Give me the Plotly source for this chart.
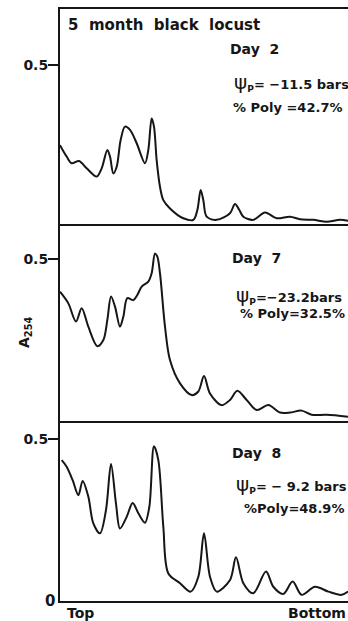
import plotly.graph_objects as go

W, H = 348, 621

# ---- data (position along gradient 0=Top .. 100=Bottom, A254) ----
x_day2 = [0, 2.31, 4.05, 6.60, 9.26, 12.73, 14.47, 16.44, 17.36, 18.52, 19.68, 21.06, 22.57, 24.31,
          26.62, 29.51, 30.67, 31.83, 32.64, 33.56, 34.72, 35.88, 38.19, 42.82, 46.30, 47.69, 48.84,
          49.77, 50.93, 54.40, 59.03, 60.76, 62.27, 63.66, 67.13, 71.18, 75.23, 79.86, 83.33, 87.96,
          92.59, 97.22, 100]
a_day2 = [0.248, 0.212, 0.191, 0.198, 0.175, 0.149, 0.175, 0.233, 0.212, 0.159, 0.180, 0.264, 0.306,
          0.296, 0.254, 0.191, 0.233, 0.332, 0.306, 0.201, 0.117, 0.075, 0.049, 0.018, 0.013, 0.044,
          0.107, 0.075, 0.023, 0.013, 0.034, 0.063, 0.044, 0.023, 0.013, 0.036, 0.018, 0.023, 0.015,
          0.013, 0.007, 0.013, 0.010]

x_day7 = [0, 2.89, 5.56, 7.52, 9.84, 12.96, 15.05, 16.44, 17.71, 19.10, 20.83, 21.99, 23.38, 25.46,
          26.85, 28.36, 30.67, 31.83, 32.99, 33.80, 34.72, 36.46, 38.19, 41.67, 45.72, 48.03, 50.00,
          52.08, 56.13, 59.03, 61.57, 64.81, 68.29, 72.34, 76.39, 79.86, 83.91, 87.38, 92.59, 100]
a_day7 = [0.399, 0.363, 0.307, 0.348, 0.291, 0.231, 0.250, 0.312, 0.384, 0.353, 0.291, 0.322, 0.379,
          0.373, 0.389, 0.415, 0.430, 0.456, 0.517, 0.507, 0.456, 0.291, 0.188, 0.116, 0.080, 0.091,
          0.139, 0.085, 0.049, 0.065, 0.093, 0.065, 0.034, 0.049, 0.026, 0.026, 0.032, 0.019, 0.019,
          0.013]

x_day8 = [0.58, 2.31, 4.40, 6.37, 7.87, 9.84, 11.57, 13.89, 15.97, 17.71, 19.44, 20.83, 23.15, 25.23,
          27.20, 29.51, 31.02, 32.64, 34.14, 35.88, 37.62, 41.67, 45.37, 48.03, 50.00, 52.08, 54.40,
          59.03, 61.11, 63.66, 67.13, 71.53, 74.07, 77.55, 80.79, 83.91, 88.54, 93.17, 97.80, 100]
a_day8 = [0.435, 0.415, 0.373, 0.327, 0.371, 0.322, 0.240, 0.209, 0.281, 0.423, 0.301, 0.224, 0.260,
          0.303, 0.271, 0.242, 0.291, 0.478, 0.435, 0.229, 0.085, 0.055, 0.029, 0.075, 0.209, 0.075,
          0.029, 0.065, 0.135, 0.055, 0.024, 0.091, 0.044, 0.022, 0.060, 0.019, 0.044, 0.029, 0.019,
          0.029]

panels = [
    dict(x=x_day2, y=a_day2, day="Day&nbsp;&nbsp;2", psi="=&nbsp;−11.5 bars", poly="%&nbsp;Poly&nbsp;=42.7%"),
    dict(x=x_day7, y=a_day7, day="Day&nbsp;&nbsp;7", psi="=−23.2bars", poly="%&nbsp;Poly=32.5%"),
    dict(x=x_day8, y=a_day8, day="Day&nbsp;&nbsp;8", psi="=&nbsp;−&nbsp;9.2 bars", poly="%Poly=48.9%"),
]
y_ranges = [[0, 0.676], [0, 0.608], [0, 0.556]]
tick_vals = [0.5]
tick_text = ["0.5"]

# ---- layout geometry (pixels) ----
ML, MT, MB, MR = 60, 9, 20, 0
PW = W - ML - MR
PH = H - MT - MB
def px(x):
    return (x - ML) / PW
def py(y):
    return (H - MB - y) / PH

panel_px = [(9, 224), (224, 421), (421, 601)]
INK = "#161616"
FONT = "DejaVu Sans"

fig = go.Figure()
for i, p in enumerate(panels):
    k = "" if i == 0 else str(i + 1)
    fig.add_trace(go.Scatter(
        x=p["x"], y=p["y"], mode="lines",
        line=dict(color=INK, width=2, shape="spline", smoothing=0.9),
        xaxis="x" + k, yaxis="y" + k, hoverinfo="skip", showlegend=False))
    top, bot = panel_px[i]
    fig.layout["xaxis" + k] = dict(
        domain=[0, 1], range=[0, 100], anchor="y" + k, showticklabels=False, ticks="",
        showline=True, mirror=(i == 0), linecolor=INK, linewidth=2, showgrid=False, zeroline=False)
    fig.layout["yaxis" + k] = dict(
        domain=[py(bot), py(top)], range=y_ranges[i], anchor="x" + k,
        showline=True, mirror=False, linecolor=INK, linewidth=2, showgrid=False, zeroline=False,
        ticks="outside", ticklen=10, tickwidth=1.5, tickcolor=INK,
        tickvals=tick_vals, ticktext=tick_text, ticklabelstandoff=-3,
        tickfont=dict(family=FONT, size=14, color=INK, weight="bold"))

anns = []
def add(text, x, y, size=13, xanchor="left", angle=0):
    anns.append(dict(text=text, x=px(x), y=py(y), xref="paper", yref="paper",
                     xanchor=xanchor, yanchor="middle", showarrow=False, textangle=angle,
                     font=dict(family=FONT, size=size, color=INK, weight="bold")))

add("5&nbsp; month&nbsp; black&nbsp; locust", 66, 25, size=15)
label_pos = [
    (228, 49, 232, 82, 231, 108),
    (230, 258, 234, 295, 238, 314),
    (230, 453, 234, 484, 242, 508),
]
for p, (dx, dy, sx, sy, qx, qy) in zip(panels, label_pos):
    add(p["day"], dx, dy, size=14)
    add("<span style='font-size:20px;font-weight:normal'>ψ</span><sub>P</sub>" + p["psi"], sx, sy, size=13)
    add(p["poly"], qx, qy, size=13)

add("A<sub>254</sub>", 25, 333, size=14, xanchor="center", angle=-90)
add("0", 50, 601, size=15, xanchor="center")
add("Top", 65, 613, size=14)
add("Bottom", 286, 613, size=14)

fig.update_layout(
    width=W, height=H, autosize=False,
    margin=dict(l=ML, r=MR, t=MT, b=MB, pad=0),
    paper_bgcolor="white", plot_bgcolor="white",
    annotations=anns, showlegend=False)

fig.write_html("out.html", config={"displayModeBar": False},
               post_script="document.body.style.margin='0';"
                           "document.documentElement.style.overflow='hidden';")
